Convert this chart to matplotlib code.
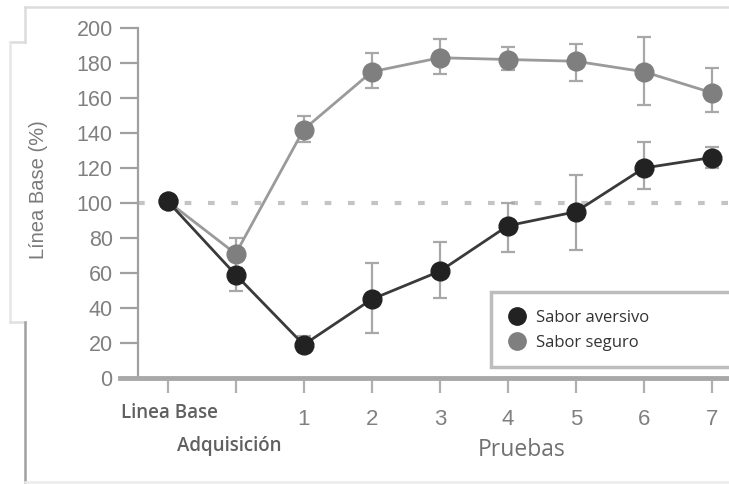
import matplotlib
matplotlib.use('Agg')
import matplotlib.pyplot as plt
from matplotlib.lines import Line2D
from matplotlib.patches import Rectangle
import numpy as np

# positions: 0 = Linea Base, 1 = Adquisicion, 2..8 = pruebas 1..7
x_pos = np.arange(9)
test_labels = ['1', '2', '3', '4', '5', '6', '7']

aversivo = [101, 59, 19, 45, 61, 87, 95, 120, 126]
aversivo_lo = [101, 50, 15, 26, 46, 72, 73, 108, 120]
aversivo_hi = [101, 63, 24, 66, 78, 100, 116, 135, 132]

seguro = [101, 71, 142, 175, 183, 182, 181, 175, 163]
seguro_lo = [101, 63, 135, 166, 174, 176, 170, 156, 152]
seguro_hi = [101, 80, 150, 186, 194, 189, 191, 195, 177]

W, H = 729, 484
fig = plt.figure(figsize=(W / 100, H / 100), dpi=100)


def fx(px):
    return px / W


def fy(py):
    return 1 - py / H


ax = fig.add_axes([fx(120), fy(378), fx(729) - fx(120), fy(28) - fy(378)])
ax.set_xlim(-0.7, 8.25)
ax.set_ylim(0, 200)

grey_line = '#9a9a9a'
dark_line = '#3a3a3a'

# reference level
ax.plot([-0.44, 8.25], [100, 100], color='#c4c4c4', lw=3, ls=(0, (1.6, 4.0)),
        zorder=1, solid_capstyle='butt')


def draw_series(vals, lo, hi, line_col, marker_col):
    vals = np.asarray(vals)
    err = [vals - np.asarray(lo), np.asarray(hi) - vals]
    ax.errorbar(x_pos, vals, yerr=err, fmt='none', ecolor='#a8a8a8',
                elinewidth=1.6, capsize=5, capthick=1.6, zorder=2)
    ax.plot(x_pos, vals, color=line_col, lw=2, zorder=3)
    ax.plot(x_pos, vals, 'o', color=marker_col, ms=13.5, mec=marker_col, zorder=4)


draw_series(seguro, seguro_lo, seguro_hi, grey_line, '#7f7f7f')
draw_series(aversivo, aversivo_lo, aversivo_hi, dark_line, '#222222')

# axes styling
for side in ['top', 'right']:
    ax.spines[side].set_visible(False)
ax.spines['left'].set_position(('data', -0.44))
ax.spines['left'].set_color('#a0a0a0')
ax.spines['left'].set_linewidth(1.6)
ax.spines['bottom'].set_color('#a8a8a8')
ax.spines['bottom'].set_linewidth(3.5)

ax.set_yticks(np.arange(0, 201, 20))
ax.tick_params(axis='y', direction='out', length=13, width=1.6, color='#a0a0a0',
               labelcolor='#808080', labelsize=15.5, pad=5)
for lab in ax.get_yticklabels():
    lab.set_family('Liberation Sans')

ax.set_xticks(x_pos)
ax.set_xticklabels(['', ''] + test_labels, family='Liberation Sans')
ax.tick_params(axis='x', direction='out', length=11, width=1.6, color='#b0b0b0',
               labelcolor='#808080', labelsize=16, pad=11)

ax.text(0.02, -0.1, 'Linea Base', transform=ax.get_xaxis_transform(),
        ha='center', va='center', fontsize=13.5, color='#606060',
        family='Open Sans', fontweight='semibold')
ax.text(0.9, -0.194, 'Adquisición', transform=ax.get_xaxis_transform(),
        ha='center', va='center', fontsize=13.5, color='#606060',
        family='Open Sans', fontweight='semibold')
ax.text(5.2, -0.206, 'Pruebas', transform=ax.get_xaxis_transform(),
        ha='center', va='center', fontsize=16.5, color='#707070',
        family='Open Sans')

fig.text(fx(38), fy(190), 'Línea Base (%)', rotation=90, ha='center',
         va='center', fontsize=14.5, color='#7a7a7a', family='Liberation Sans')

# legend box running past the right edge
fig.add_artist(Rectangle((fx(491), fy(367)), fx(260), fy(292) - fy(367),
                         transform=fig.transFigure, fill=True, fc='white',
                         ec='#bdbdbd', lw=2.5, zorder=5))
handles = [Line2D([], [], ls='none', marker='o', ms=12.5, color='#222222'),
           Line2D([], [], ls='none', marker='o', ms=12.5, color='#7f7f7f')]
leg = fig.legend(handles, ['Sabor aversivo', 'Sabor seguro'],
                 loc='upper left', bbox_to_anchor=(fx(492), fy(295)),
                 frameon=False, handletextpad=0.55, labelspacing=0.55,
                 handlelength=1.2, prop={'family': 'Open Sans', 'size': 12})
leg.set_zorder(6)
for t in leg.get_texts():
    t.set_color('#333333')

# page frame lines
frame = [((25, 729), (7, 7), '#dcdcdc'),
         ((25, 25), (7, 42), '#dcdcdc'),
         ((10, 25), (42, 42), '#dcdcdc'),
         ((10, 10), (42, 322), '#e6e6e6'),
         ((10, 25), (322, 322), '#e0e0e0'),
         ((25, 25), (322, 484), '#a0a0a0'),
         ((25, 729), (482, 482), '#ececec')]
for xs, ys, col in frame:
    fig.add_artist(Line2D([fx(xs[0]), fx(xs[1])], [fy(ys[0]), fy(ys[1])],
                          transform=fig.transFigure, color=col, lw=1.8))

fig.savefig('out.png', dpi=100)
